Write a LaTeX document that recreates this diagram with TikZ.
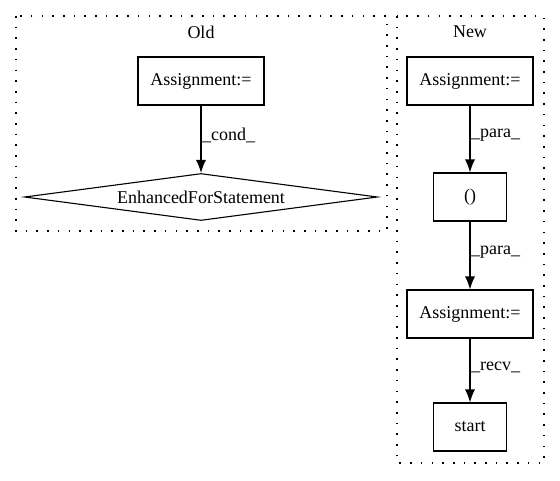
\documentclass[tikz,border=0pt]{standalone}
\usepackage{fontspec}
\setmainfont{Liberation Serif}
\usetikzlibrary{arrows.meta,shapes.geometric}
\begin{document}
\begin{tikzpicture}[x=1pt,y=-1pt,
  every node/.style={font=\fontsize{18}{20}\selectfont},
  cluster/.style={draw,line width=1.3pt,dash pattern=on 1.6pt off 9.1pt},
  boxnode/.style={draw,rectangle,line width=1.1pt,inner sep=0pt},
  edge/.style={draw,line width=1.1pt,-{Latex[length=13pt,width=10pt]}},
  elabel/.style={right,inner sep=0.5pt,font=\fontsize{18}{20}\selectfont}]
\useasboundingbox (0,0) rectangle (560,480);
% clusters
\draw[cluster] (16,16) rectangle (387,231);
\node (oldlbl) at (201,32) {Old};
\draw[cluster] (397,16) rectangle (544,463);
\node (newlbl) at (470,32) {New};
% Old nodes
\node[boxnode,minimum width=126pt,minimum height=48pt] (oa) at (201,81) {Assignment:=};
\node[draw,diamond,aspect=7.5,line width=1.1pt,inner sep=0pt,minimum width=353pt,minimum height=47pt] (ofor) at (201,197) {EnhancedForStatement};
\path[edge] (oa) -- node[elabel,pos=0.45] {\_cond\_} (ofor);
% New nodes
\node[boxnode,minimum width=126pt,minimum height=48pt] (na1) at (470,81) {Assignment:=};
\node[boxnode,minimum width=73pt,minimum height=48pt] (npar) at (470,197) {()};
\node[boxnode,minimum width=126pt,minimum height=48pt] (na2) at (470,314) {Assignment:=};
\node[boxnode,minimum width=73pt,minimum height=48pt] (nstart) at (470,427) {start};
\path[edge] (na1) -- node[elabel,pos=0.45] {\_para\_} (npar);
\path[edge] (npar) -- node[elabel,pos=0.45] {\_para\_} (na2);
\path[edge] (na2) -- node[elabel,pos=0.45] {\_recv\_} (nstart);
\end{tikzpicture}
\end{document}
